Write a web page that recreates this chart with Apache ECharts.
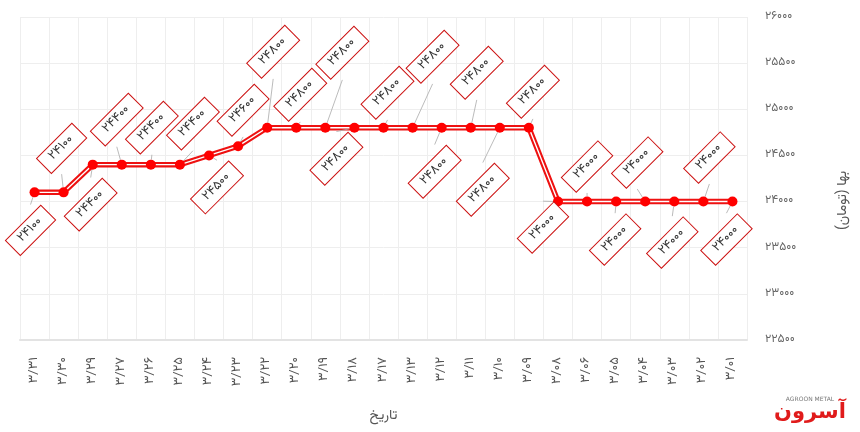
<!DOCTYPE html>
<html>
<head>
<meta charset="utf-8">
<title>بها (تومان)</title>
<script src="https://cdn.jsdelivr.net/npm/echarts@6/dist/echarts.min.js"></script>
<style>
  html, body { margin: 0; padding: 0; background: #fff; }
  #chart { width: 860px; height: 432px; }
</style>
</head>
<body>
<div id="chart"></div>
<script>
// dates (month/day), shown right-to-left like the original
var dates = ['۳/۳۱', '۳/۳۰', '۳/۲۹', '۳/۲۷', '۳/۲۶', '۳/۲۵', '۳/۲۴', '۳/۲۳', '۳/۲۲', '۳/۲۰',
             '۳/۱۹', '۳/۱۸', '۳/۱۷', '۳/۱۳', '۳/۱۲', '۳/۱۱', '۳/۱۰', '۳/۰۹', '۳/۰۸', '۳/۰۶',
             '۳/۰۵', '۳/۰۴', '۳/۰۳', '۳/۰۲', '۳/۰۱'];
var prices = [24100, 24100, 24400, 24400, 24400, 24400, 24500, 24600, 24800, 24800,
              24800, 24800, 24800, 24800, 24800, 24800, 24800, 24800, 24000, 24000,
              24000, 24000, 24000, 24000, 24000];

// where each value box sits relative to its point (label layout only)
var labelShift = [
  [-4, 38], [-2, -44], [-2, 40], [-5, -45], [1, -37], [13, -41], [8, 32], [5, -36],
  [6, -76], [4, -33], [17, -75], [-18, 31], [4, -35], [20, -71], [-7, 44], [6, -55],
  [-17, 62], [4, -36], [-15, 26], [0, -35], [-1, 38], [-8, -39], [-2, 41], [6, -44], [-6, 38]
];

var FONT = 'Vazirmatn, "DejaVu Sans", sans-serif';

function toFa(v) {
  return String(v).replace(/\d/g, function (d) { return '۰۱۲۳۴۵۶۷۸۹'[d]; });
}

var chart = echarts.init(document.getElementById('chart'));

var option = {
  animation: false,
  textStyle: { fontFamily: FONT },
  grid: { left: 20, right: 113, top: 17, bottom: 92 },
  xAxis: {
    type: 'category',
    data: dates,
    boundaryGap: true,
    name: 'تاریخ',
    nameLocation: 'middle',
    nameGap: 70,
    nameTextStyle: { color: '#555', fontSize: 14, fontFamily: FONT },
    axisLine: { lineStyle: { color: '#e3e3e3', width: 2 } },
    axisTick: { show: false },
    axisLabel: { rotate: 90, margin: 17, color: '#555', fontSize: 13, fontFamily: FONT, interval: 0 },
    splitLine: { show: true, interval: 0, lineStyle: { color: '#eeeeee' } }
  },
  yAxis: {
    type: 'value',
    position: 'right',
    min: 22500,
    max: 26000,
    interval: 500,
    name: 'بها (تومان)',
    nameLocation: 'middle',
    nameRotate: 90,
    nameGap: 90,
    // push the rotated title a little lower, like the original
    nameTextStyle: { color: '#555', fontSize: 14, fontFamily: FONT, padding: [0, 44, 0, 0] },
    axisLine: { show: false },
    axisTick: { show: false },
    axisLabel: {
      margin: 18, color: '#666', fontSize: 12, fontFamily: FONT,
      formatter: function (v) { return toFa(v); }
    },
    splitLine: { lineStyle: { color: '#eeeeee' } }
  },
  series: [
    {
      // red outer stroke
      type: 'line',
      data: prices,
      symbol: 'none',
      z: 2,
      lineStyle: { color: '#ee1111', width: 5.5 },
      silent: true
    },
    {
      // white core -> double line look
      type: 'line',
      data: prices,
      symbol: 'none',
      z: 3,
      lineStyle: { color: '#ffffff', width: 1.4 },
      silent: true
    },
    {
      type: 'line',
      data: prices,
      z: 4,
      symbol: 'circle',
      symbolSize: 10,
      itemStyle: { color: '#ff0000' },
      lineStyle: { width: 0, opacity: 0 },
      label: {
        show: true,
        position: 'inside',
        rotate: 45,
        formatter: function (p) { return toFa(p.value); },
        color: '#333',
        fontSize: 13,
        fontFamily: FONT,
        backgroundColor: '#ffffff',
        borderColor: '#cc1111',
        borderWidth: 1,
        padding: [4, 10, 3, 10]
      },
      labelLine: { show: true, lineStyle: { color: '#aaaaaa', width: 0.8 } },
      labelLayout: function (p) {
        var s = labelShift[p.dataIndex];
        var r = p.rect;
        return {
          x: r.x + r.width / 2 + s[0],
          y: r.y + r.height / 2 + s[1],
          align: 'center',
          verticalAlign: 'middle',
          hideOverlap: false
        };
      }
    }
  ],
  graphic: [
    {
      type: 'text',
      style: { x: 810, y: 396, text: 'AGROON METAL', textAlign: 'center', fill: '#777', font: '6px "DejaVu Sans", sans-serif' }
    },
    {
      type: 'text',
      style: { x: 810, y: 402, text: 'آسرون', textAlign: 'center', fill: '#e01b1b', font: 'bold 21px "DejaVu Sans", sans-serif' }
    }
  ]
};

chart.setOption(option);
</script>
</body>
</html>
